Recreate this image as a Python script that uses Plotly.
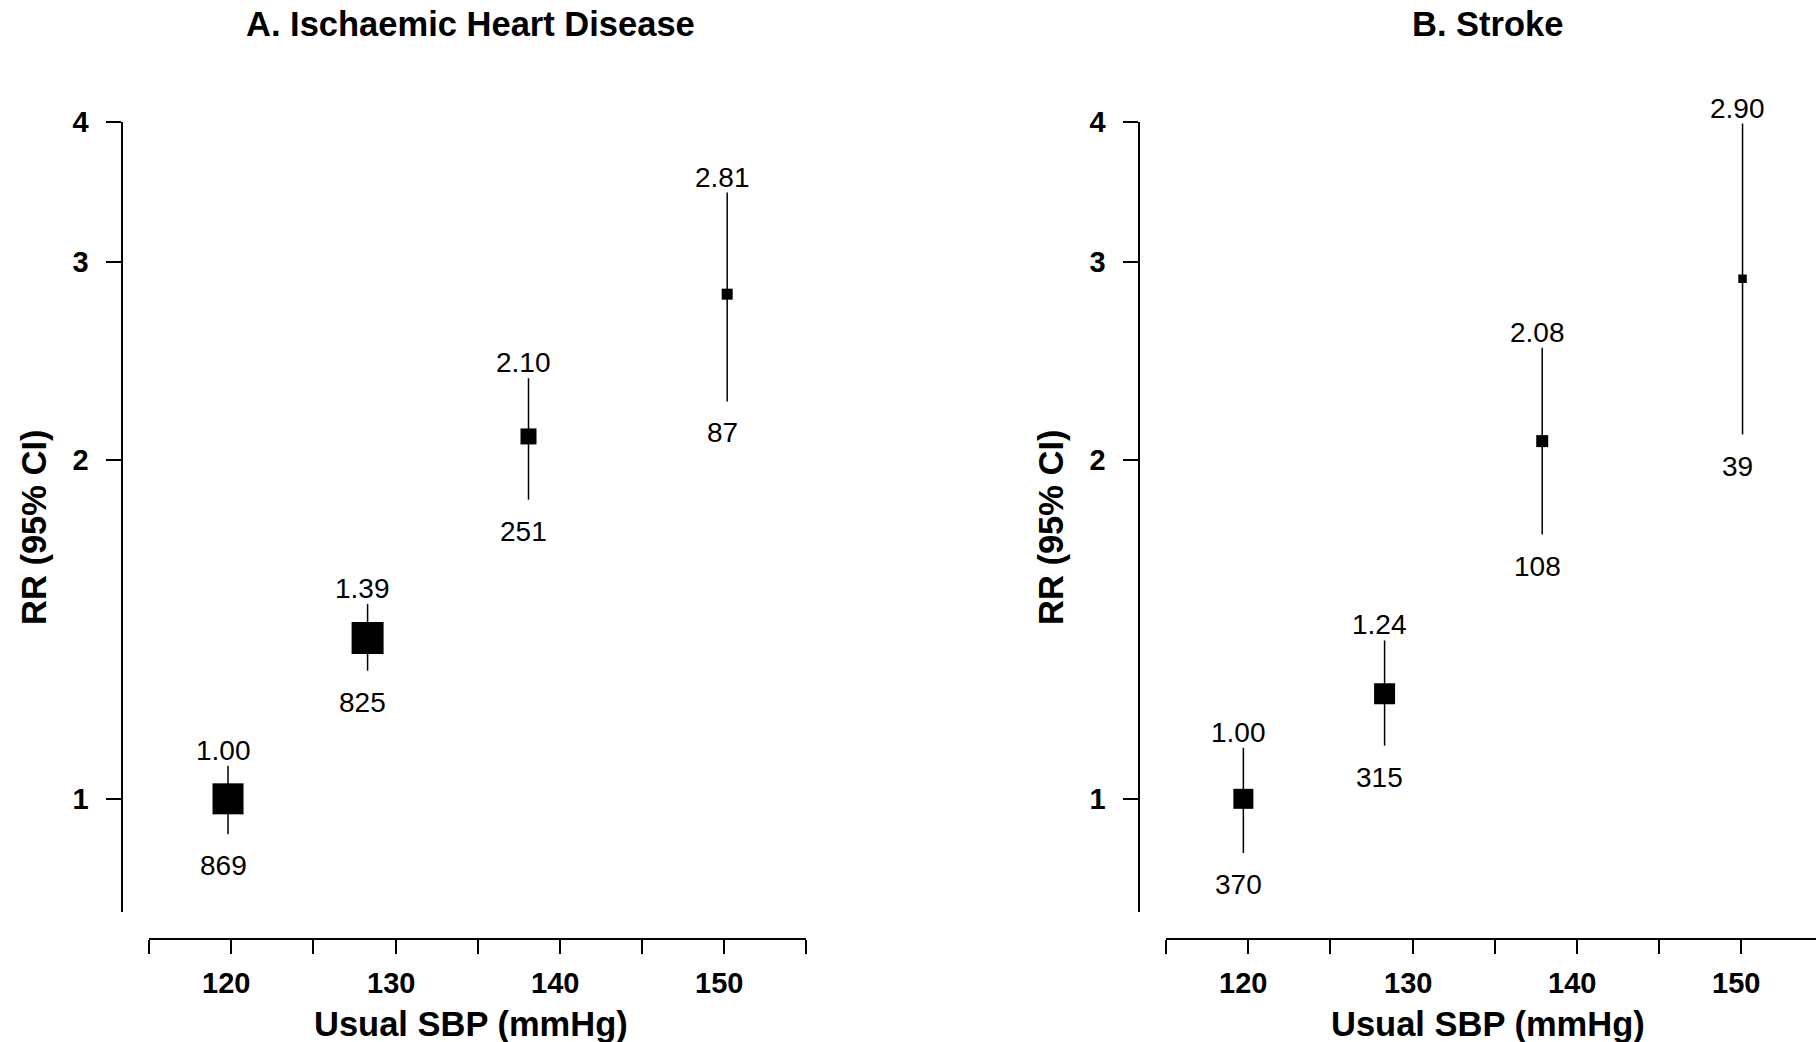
import numpy as np
import plotly.graph_objects as go

# ---------------- data ----------------
panel_titles = ["A. Ischaemic Heart Disease", "B. Stroke"]

ihd_sbp = [119.8, 128.3, 138.1, 150.2]
ihd_rr = [1.00, 1.39, 2.10, 2.81]
ihd_lo = [0.930, 1.300, 1.845, 2.256]
ihd_hi = [1.070, 1.490, 2.366, 3.460]
ihd_n = [869, 825, 251, 87]
ihd_box = [31, 32, 16, 11]

stk_sbp = [119.7, 128.3, 137.9, 150.1]
stk_rr = [1.00, 1.24, 2.08, 2.90]
stk_lo = [0.895, 1.115, 1.718, 2.108]
stk_hi = [1.110, 1.383, 2.518, 3.985]
stk_n = [370, 315, 108, 39]
stk_box = [20, 21, 12, 8.5]

x_ticks = [115, 120, 125, 130, 135, 140, 145, 150, 155]
x_labelled = [120, 130, 140, 150]
y_ticks = [1, 2, 3, 4]
y_ticktext = ["1", "2", "3", "4"]
x_title = "Usual SBP (mmHg)"
y_title = "RR (95% CI)"

# ---------------- layout geometry (pixels) ----------------
W, H = 1816, 1042
FONT = "Liberation Sans, Arial, Helvetica, sans-serif"
px_per_unit = 16.42
panel_offset = 1017.0
yaxis_px = 121.7          # x-position of left y-axis line
xstart_px = 149.2         # x-position of 115 on left panel
y_top_px, y_bot_px = 121.7, 911.5
xaxis_y_px = 939.3
y_min, y_max = 0.794, 4.0

def fx(px):
    return px / W

def fy(py):
    return 1 - py / H

fig = go.Figure()

panels = [
    (ihd_sbp, ihd_rr, ihd_lo, ihd_hi, ihd_n, ihd_box),
    (stk_sbp, stk_rr, stk_lo, stk_hi, stk_n, stk_box),
]

annotations = []
for i, (sbp, rr, lo, hi, n, box) in enumerate(panels):
    k = "" if i == 0 else str(i + 1)
    off = i * panel_offset
    x0 = xstart_px + off
    x1 = min(x0 + 40 * px_per_unit, W)
    xr_max = 115 + (x1 - x0) / px_per_unit
    rr_a = np.array(rr)
    fig.add_trace(go.Scatter(
        x=sbp, y=rr, mode="markers", opacity=1,
        marker=dict(symbol="square", size=box, color="black", opacity=1,
                    line=dict(width=0)),
        error_y=dict(type="data", symmetric=False,
                     array=list(np.array(hi) - rr_a),
                     arrayminus=list(rr_a - np.array(lo)),
                     color="black", thickness=1.5, width=0),
        xaxis="x" + k, yaxis="y" + k, showlegend=False, cliponaxis=False,
        hoverinfo="skip",
    ))
    fig.layout["xaxis" + k] = dict(
        domain=[fx(x0), fx(x1)], range=[115, xr_max], anchor="free",
        position=fy(xaxis_y_px), showline=True, linecolor="black", linewidth=1.5,
        ticks="outside", ticklen=14, tickwidth=1.5, tickcolor="black",
        tickvals=x_ticks, showticklabels=False, showgrid=False, zeroline=False,
        automargin=False,
    )
    fig.layout["yaxis" + k] = dict(
        type="log", domain=[fy(y_bot_px), fy(y_top_px)],
        range=[np.log10(y_min), np.log10(y_max)], anchor="free",
        position=fx(yaxis_px + off), showline=True, linecolor="black", linewidth=1.5,
        ticks="outside", ticklen=14.5, tickwidth=1.5, tickcolor="black",
        tickvals=y_ticks, ticktext=y_ticktext, showgrid=False, zeroline=False,
        tickfont=dict(family=FONT, size=29, color="black", weight="bold"),
        ticklabelstandoff=12, automargin=False,
    )
    # x tick labels (placed on the axis scale)
    for tv in x_labelled:
        annotations.append(dict(
            x=tv, y=fy(983), xref="x" + k, yref="paper", text=str(tv),
            showarrow=False, xanchor="center", yanchor="middle", xshift=-5,
            font=dict(family=FONT, size=29, color="black", weight="bold")))
    # value labels above and counts below each CI
    for xv, r, l, h, cnt in zip(sbp, rr, lo, hi, n):
        annotations.append(dict(
            x=xv, y=np.log10(h), xref="x" + k, yref="y" + k, text=f"{r:.2f}",
            showarrow=False, yanchor="bottom", xanchor="center", xshift=-5, yshift=-2,
            font=dict(family=FONT, size=28, color="black")))
        annotations.append(dict(
            x=xv, y=np.log10(l), xref="x" + k, yref="y" + k, text=str(cnt),
            showarrow=False, yanchor="top", xanchor="center", xshift=-5, yshift=-14,
            font=dict(family=FONT, size=28, color="black")))
    cx = (x0 + x0 + 40 * px_per_unit) / 2 - 7
    annotations.append(dict(
        x=fx(cx), y=fy(24), xref="paper", yref="paper", text=panel_titles[i],
        showarrow=False, xanchor="center", yanchor="middle",
        font=dict(family=FONT, size=34.5, color="black", weight="bold")))
    annotations.append(dict(
        x=fx(cx), y=fy(1024), xref="paper", yref="paper", text=x_title,
        showarrow=False, xanchor="center", yanchor="middle",
        font=dict(family=FONT, size=34.5, color="black", weight="bold")))
    annotations.append(dict(
        x=fx(34 + off), y=fy(527), xref="paper", yref="paper", text=y_title,
        showarrow=False, xanchor="center", yanchor="middle", textangle=-90,
        font=dict(family=FONT, size=34.5, color="black", weight="bold")))

fig.update_layout(
    width=W, height=H, margin=dict(l=0, r=0, t=0, b=0, pad=0, autoexpand=False),
    paper_bgcolor="white", plot_bgcolor="white",
    annotations=annotations, showlegend=False,
    font=dict(family=FONT, color="black"),
)

fig.write_html("out.html", config={"displayModeBar": False},
               post_script="document.body.style.margin='0';")
